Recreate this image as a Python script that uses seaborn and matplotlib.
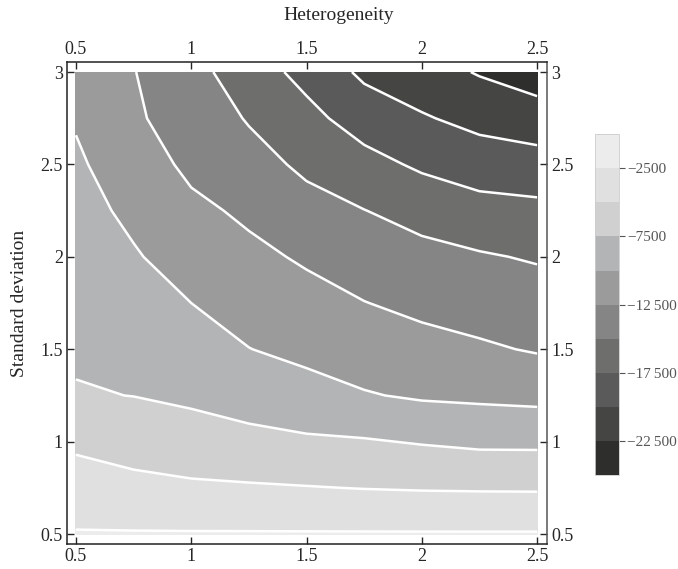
import numpy as np
import matplotlib
matplotlib.use("Agg")
import matplotlib.pyplot as plt
import seaborn as sns

sns.set_style("white")
plt.rcParams['font.family'] = ['Liberation Serif', 'DejaVu Serif']
plt.rcParams['axes.unicode_minus'] = True

# grid (heterogeneity x standard deviation)
heterogeneity = [0.5, 0.75, 1.0, 1.25, 1.5, 1.75, 2.0, 2.25, 2.5]
std_dev = [0.5, 0.75, 1.0, 1.25, 1.5, 1.75, 2.0, 2.25, 2.5, 2.75, 3.0]

# one list per heterogeneity value, running up the standard deviation axis
col_050 = [-2350, -3900, -5435, -7336, -7808, -8282, -8755, -9228, -9700, -10175, -10900]
col_075 = [-2350, -4330, -6028, -7533, -8290, -9045, -9800, -10477, -11125, -12207, -12422]
col_100 = [-2350, -4630, -6465, -7920, -8960, -10000, -10960, -11920, -13078, -13470, -14165]
col_125 = [-2350, -4760, -6858, -8503, -9960, -10946, -11920, -12952, -14070, -15194, -16347]
col_150 = [-2350, -4905, -7160, -9136, -10596, -11675, -12815, -14147, -15481, -16815, -18226]
col_175 = [-2350, -5063, -7310, -9837, -11182, -12445, -13700, -14955, -16702, -18584, -20480]
col_200 = [-2350, -5168, -7664, -10292, -11722, -13060, -14287, -15860, -17880, -19773, -21486]
col_225 = [-2350, -5220, -7976, -10461, -12183, -13520, -14770, -16635, -18692, -20732, -22680]
col_250 = [-2350, -5240, -7995, -10660, -12688, -13863, -15220, -16888, -19013, -21377, -23720]

levels = [-25000, -22500, -20000, -17500, -15000, -12500, -10000, -7500, -5000, -2500, 0]
band_colors = ['#2e2e2c', '#454544', '#5a5a5a', '#6e6e6c', '#858585',
               '#9a9b9a', '#b3b4b5', '#d0d0d0', '#e0e0e0', '#ececec']
cbar_ticks = [-2500, -7500, -12500, -17500, -22500]
cbar_labels = ['\u22122500', '\u22127500', '\u221212\u2009500', '\u221217\u2009500', '\u221222\u2009500']

Z = np.array([col_050, col_075, col_100, col_125, col_150,
              col_175, col_200, col_225, col_250]).T
X, Y = np.meshgrid(heterogeneity, std_dev)

fig = plt.figure(figsize=(6.78, 5.69), dpi=100)
ax = fig.add_axes([0.0988, 0.0439, 0.708, 0.847])

cf = ax.contourf(X, Y, Z, levels=levels, colors=band_colors)
ax.contour(X, Y, Z, levels=levels[1:-1], colors='white', linewidths=1.8,
           linestyles='solid')

ax.set_xlim(0.461, 2.543)
ax.set_ylim(0.446, 3.054)
ax.set_xticks([0.5, 1, 1.5, 2, 2.5])
ax.set_xticklabels(['0.5', '1', '1.5', '2', '2.5'])
ax.set_yticks([0.5, 1, 1.5, 2, 2.5, 3])
ax.set_yticklabels(['0.5', '1', '1.5', '2', '2.5', '3'])
ax.tick_params(direction='in', length=5, width=1, labelsize=13,
               top=True, right=True, labeltop=True, labelright=True,
               bottom=True, left=True, pad=3)
for side in ['left', 'bottom', 'top']:
    ax.spines[side].set_color('#222222')
ax.spines['right'].set_color('#555555')
for s in ax.spines.values():
    s.set_linewidth(1.1)

ax.set_ylabel('Standard deviation', fontsize=14, labelpad=9)
fig.text(0.5, 0.972, 'Heterogeneity', fontsize=14, ha='center', va='center')

cax = fig.add_axes([0.8776, 0.1652, 0.0354, 0.599])
cb = fig.colorbar(cf, cax=cax)
cb.set_ticks(cbar_ticks)
cb.set_ticklabels(cbar_labels)
cb.outline.set_edgecolor('#cccccc')
cb.outline.set_linewidth(0.6)
cax.tick_params(direction='out', length=4, width=0.8, colors='#555555',
                labelsize=11, pad=2)

fig.savefig('out.png', dpi=100)
